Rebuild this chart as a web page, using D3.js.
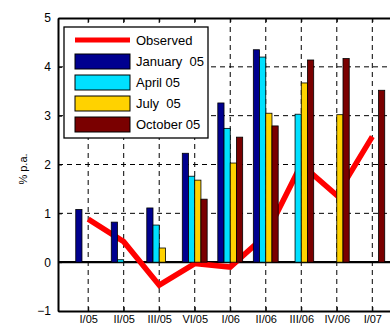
<!DOCTYPE html>
<html>
<head>
<meta charset="utf-8">
<script src="https://cdn.jsdelivr.net/npm/d3@7"></script>
<style>
  body { margin: 0; background: #fff; }
  svg { display: block; font-family: "Liberation Sans", Arial, sans-serif; }
</style>
</head>
<body>
<script>
var svgWidth = 390;
var svgHeight = 326;

// chart data
var categories = ["I/05", "II/05", "III/05", "VI/05", "I/06", "II/06", "III/06", "IV/06", "I/07"];
var observed = [0.88, 0.42, -0.47, -0.03, -0.1, 0.55, 2.0, 1.37, 2.57];
var jan05 = [1.08, 0.82, 1.11, 2.23, 3.26, 4.35, null, null, null];
var apr05 = [null, 0.05, 0.76, 1.76, 2.74, 4.20, 3.03, null, null];
var jul05 = [null, null, 0.29, 1.68, 2.03, 3.05, 3.67, 3.02, null];
var oct05 = [null, null, null, 1.29, 2.56, 2.79, 4.14, 4.17, 3.52];
var seriesNames = ["January  05", "April 05", "July  05", "October 05"];
var yTicks = [-1, 0, 1, 2, 3, 4, 5];

var seriesValues = [jan05, apr05, jul05, oct05];
var seriesColors = ["#00008f", "#00e0ff", "#ffd200", "#7a0000"];

var chartMargin = { top: 18, left: 58 };
var chartHeight = 293;
var chartWidth = 380;   // plot runs off the right edge of the picture

var svg = d3.select("body")
  .append("svg")
  .attr("width", svgWidth)
  .attr("height", svgHeight);

var chartGroup = svg.append("g")
  .attr("transform", `translate(${chartMargin.left}, ${chartMargin.top})`);

var x = d3.scaleLinear()
  .domain([-0.85, 9.85])
  .range([0, chartWidth]);

var y = d3.scaleLinear()
  .domain([-1, 5])
  .range([chartHeight, 0]);

var idx = d3.range(categories.length);

// dashed grid
chartGroup.append("g").selectAll("line")
  .data(idx).enter()
  .append("line")
  .attr("x1", d => x(d)).attr("x2", d => x(d))
  .attr("y1", 0).attr("y2", chartHeight)
  .attr("stroke", "#000").attr("stroke-width", 1)
  .attr("stroke-dasharray", "5,4");

chartGroup.append("g").selectAll("line")
  .data(yTicks.filter(t => t > -1 && t < 5 && t != 0)).enter()
  .append("line")
  .attr("x1", 0).attr("x2", chartWidth)
  .attr("y1", d => y(d)).attr("y2", d => y(d))
  .attr("stroke", "#000").attr("stroke-width", 1)
  .attr("stroke-dasharray", "5,4");

// zero line
chartGroup.append("line")
  .attr("x1", 0).attr("x2", chartWidth)
  .attr("y1", y(0)).attr("y2", y(0))
  .attr("stroke", "#000").attr("stroke-width", 2.2);

// observed line (sits behind the bars)
var line = d3.line()
  .x((d, i) => x(i))
  .y(d => y(d));

chartGroup.append("path")
  .datum(observed)
  .attr("d", line)
  .attr("fill", "none")
  .attr("stroke", "#ff0000")
  .attr("stroke-width", 5.5)
  .attr("stroke-linejoin", "miter");

// grouped bars
var slot = 0.175;
var barW = x(slot) - x(0);
seriesValues.forEach((vals, k) => {
  var pts = idx.filter(i => vals[i] != null);
  chartGroup.append("g").selectAll("rect")
    .data(pts).enter()
    .append("rect")
    .attr("x", i => x(i + (k - 1.5) * slot) - barW / 2)
    .attr("width", barW)
    .attr("y", i => y(Math.max(vals[i], 0)))
    .attr("height", i => Math.abs(y(vals[i]) - y(0)))
    .attr("fill", seriesColors[k])
    .attr("stroke", "#000")
    .attr("stroke-width", 0.8);
});

// axes
var leftAxis = d3.axisLeft(y).tickValues(yTicks).tickFormat(d3.format("d"))
  .tickSizeInner(-4).tickSizeOuter(0).tickPadding(7);
var bottomAxis = d3.axisBottom(x).tickValues(idx).tickFormat(i => categories[i])
  .tickSizeInner(-4).tickSizeOuter(0);
var topAxis = d3.axisTop(x).tickValues(idx).tickFormat("").tickSizeInner(-4).tickSizeOuter(0);

var gl = chartGroup.append("g").call(leftAxis);
var gb = chartGroup.append("g").attr("transform", `translate(0, ${chartHeight})`).call(bottomAxis);
var gt = chartGroup.append("g").call(topAxis);

[gl, gb, gt].forEach(g => {
  g.select(".domain").attr("stroke", "#000").attr("stroke-width", 2);
  g.selectAll(".tick line").attr("stroke", "#000").attr("stroke-width", 1);
  g.selectAll("text").attr("fill", "#000").attr("font-family", "Liberation Sans, Arial, sans-serif");
});
gl.selectAll("text").attr("font-size", 12);
// keep the category labels inside the picture
gb.selectAll("text").attr("font-size", 11).attr("y", 12).attr("dy", 0);

// y label
svg.append("text")
  .attr("transform", "translate(27, 169) rotate(-90)")
  .attr("text-anchor", "middle")
  .attr("font-size", 11)
  .text("% p.a.");

// legend
var legend = svg.append("g");
legend.append("rect")
  .attr("x", 64).attr("y", 27)
  .attr("width", 144).attr("height", 111)
  .attr("fill", "#fff").attr("stroke", "#000").attr("stroke-width", 1.3);

legend.append("line")
  .attr("x1", 75).attr("x2", 130)
  .attr("y1", 40).attr("y2", 40)
  .attr("stroke", "#ff0000").attr("stroke-width", 5);
legend.append("text")
  .attr("x", 136).attr("y", 45)
  .attr("font-size", 13)
  .text("Observed");

seriesNames.forEach((name, k) => {
  var top = 54 + k * 21;
  legend.append("rect")
    .attr("x", 75).attr("y", top)
    .attr("width", 55).attr("height", 15)
    .attr("fill", seriesColors[k])
    .attr("stroke", "#000").attr("stroke-width", 1);
  legend.append("text")
    .attr("x", 136).attr("y", top + 12)
    .attr("font-size", 13)
    .attr("xml:space", "preserve")
    .style("white-space", "pre")
    .text(name);
});
</script>
</body>
</html>
